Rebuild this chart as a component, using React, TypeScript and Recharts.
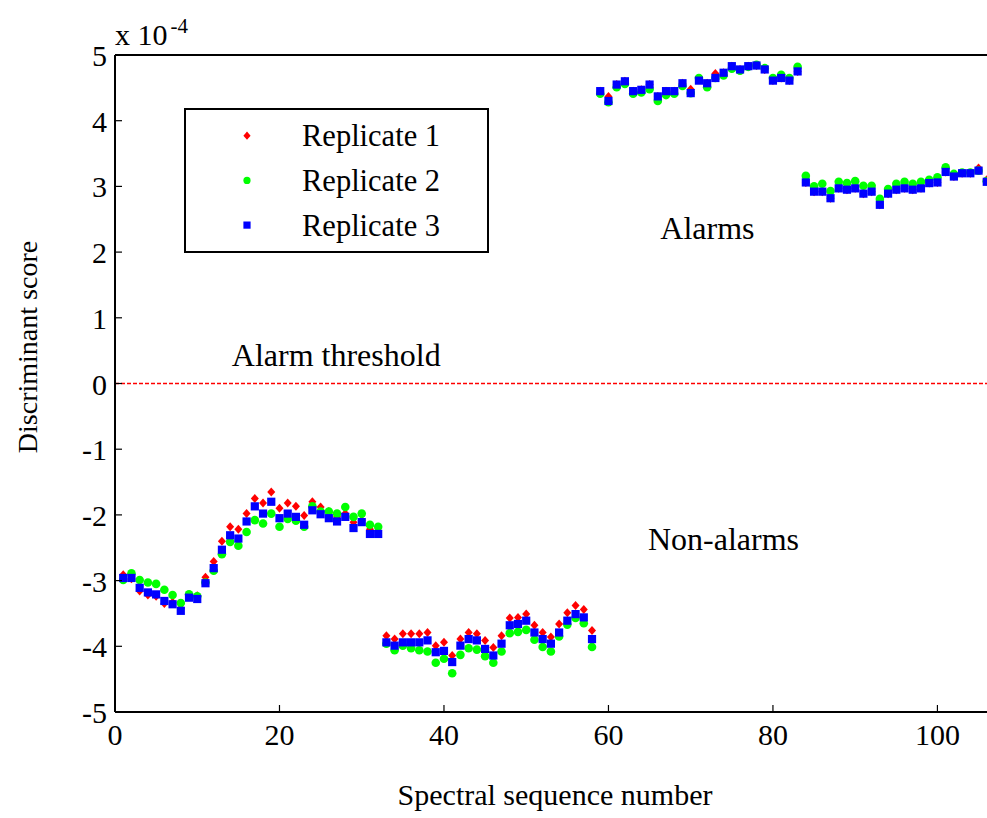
import React from 'react';
import { ScatterChart, Scatter, XAxis, YAxis, ReferenceLine, ReferenceDot } from 'recharts';

const FONT = "'Liberation Serif', 'Times New Roman', serif";

// Discriminant scores (x 1e-4) for spectral sequence numbers 1..106
// groups: 1-32 and 33-58 are non-alarms, 59-83 and 84-106 are alarms
const replicate1 = [
  -2.91, -2.97, -3.16, -3.22, -3.24, -3.35, -3.33, -3.42, -3.23, -3.23, -2.95, -2.71, -2.40, -2.18, -2.22, -1.98,
  -1.75, -1.82, -1.65, -1.90, -1.82, -1.87, -2.01, -1.80, -1.88, -1.95, -2.03, -1.98, -2.11, -2.08, -2.22, -2.24,
  -3.84, -3.89, -3.81, -3.81, -3.81, -3.79, -3.99, -3.94, -4.14, -3.89, -3.79, -3.81, -3.91, -4.02, -3.84, -3.57,
  -3.56, -3.51, -3.68, -3.79, -3.86, -3.66, -3.49, -3.38, -3.44, -3.76,
  4.45, 4.37, 4.55, 4.60, 4.45, 4.47, 4.55, 4.37, 4.45, 4.45, 4.57, 4.48, 4.63, 4.57, 4.72, 4.73,
  4.83, 4.78, 4.83, 4.84, 4.78, 4.61, 4.65, 4.61, 4.75,
  3.06, 2.92, 2.92, 2.82, 2.97, 2.95, 2.97, 2.89, 2.92, 2.72, 2.89, 2.95, 2.97, 2.95, 2.97, 3.05,
  3.06, 3.22, 3.15, 3.20, 3.20, 3.28, 3.10,
];

const replicate2 = [
  -2.99, -2.89, -2.99, -3.03, -3.05, -3.14, -3.22, -3.34, -3.21, -3.24, -3.03, -2.85, -2.60, -2.41, -2.47, -2.26,
  -2.08, -2.13, -1.98, -2.18, -2.06, -2.09, -2.18, -1.87, -1.95, -1.95, -1.98, -1.88, -2.03, -1.98, -2.15, -2.18,
  -3.96, -4.06, -3.99, -4.03, -4.06, -4.08, -4.25, -4.19, -4.41, -4.13, -4.03, -4.05, -4.15, -4.25, -4.08, -3.80,
  -3.78, -3.75, -3.90, -4.01, -4.08, -3.85, -3.67, -3.57, -3.65, -4.01,
  4.41, 4.28, 4.51, 4.56, 4.41, 4.43, 4.48, 4.30, 4.39, 4.41, 4.53, 4.42, 4.65, 4.51, 4.65, 4.69,
  4.79, 4.76, 4.82, 4.85, 4.80, 4.65, 4.70, 4.65, 4.82,
  3.16, 3.00, 3.04, 2.93, 3.07, 3.05, 3.08, 3.01, 3.01, 2.81, 2.96, 3.04, 3.07, 3.04, 3.07, 3.10,
  3.14, 3.29, 3.19, 3.21, 3.21, 3.24, 3.08,
];

const replicate3 = [
  -2.96, -2.96, -3.11, -3.18, -3.21, -3.31, -3.36, -3.46, -3.26, -3.28, -3.04, -2.81, -2.53, -2.31, -2.36, -2.10,
  -1.87, -1.98, -1.80, -2.05, -1.98, -2.03, -2.15, -1.93, -1.99, -2.05, -2.10, -2.03, -2.20, -2.11, -2.29, -2.29,
  -3.94, -3.99, -3.94, -3.94, -3.94, -3.91, -4.09, -4.07, -4.24, -3.99, -3.89, -3.91, -4.04, -4.14, -3.96, -3.68,
  -3.66, -3.61, -3.79, -3.89, -3.96, -3.79, -3.61, -3.51, -3.56, -3.89,
  4.45, 4.30, 4.55, 4.60, 4.45, 4.47, 4.55, 4.37, 4.45, 4.45, 4.57, 4.42, 4.61, 4.57, 4.65, 4.73,
  4.83, 4.78, 4.83, 4.84, 4.78, 4.61, 4.65, 4.61, 4.75,
  3.06, 2.92, 2.92, 2.82, 2.97, 2.95, 2.97, 2.89, 2.92, 2.72, 2.89, 2.95, 2.97, 2.95, 2.97, 3.05,
  3.06, 3.22, 3.15, 3.20, 3.20, 3.24, 3.07,
];

const xTicks = [0, 20, 40, 60, 80, 100];
const yTicks = [-5, -4, -3, -2, -1, 0, 1, 2, 3, 4, 5];
const thresholds = [0];

const toPoints = (vals: number[]) => vals.map((v, i) => ({ seq: i + 1, score: v }));

// marker shapes
const Diamond = ({ cx, cy, s = 4 }: any) => (
  <polygon points={`${cx},${cy - s - 0.5} ${cx + s},${cy} ${cx},${cy + s + 0.5} ${cx - s},${cy}`} fill="#ff0000" />
);
const Dot = ({ cx, cy, s = 4.3 }: any) => <circle cx={cx} cy={cy} r={s} fill="#00ff00" />;
const Square = ({ cx, cy, s = 4.1 }: any) => (
  <rect x={cx - s} y={cy - s} width={s * 2} height={s * 2} fill="#0000ff" />
);

const series = [
  { name: 'Replicate 1', values: replicate1, Shape: Diamond },
  { name: 'Replicate 2', values: replicate2, Shape: Dot },
  { name: 'Replicate 3', values: replicate3, Shape: Square },
];

// MATLAB style ticks point into the plot
const BottomTick = ({ x, y, payload }: any) => (
  <g>
    <line x1={x} x2={x} y1={y} y2={y - 7} stroke="#000" strokeWidth={1.2} />
    <text x={x} y={y + 33} textAnchor="middle" fontFamily={FONT} fontSize={30} fill="#000">
      {payload.value}
    </text>
  </g>
);
const TopTick = ({ x, y }: any) => <line x1={x} x2={x} y1={y} y2={y + 7} stroke="#000" strokeWidth={1.2} />;
const LeftTick = ({ x, y, payload }: any) => (
  <g>
    <line x1={x} x2={x + 7} y1={y} y2={y} stroke="#000" strokeWidth={1.2} />
    <text x={x - 8} y={y + 11} textAnchor="end" fontFamily={FONT} fontSize={30} fill="#000">
      {payload.value}
    </text>
  </g>
);

const YTitle = ({ viewBox }: any) => {
  const right = viewBox.x + viewBox.width;
  return (
    <g fontFamily={FONT} fill="#000">
      <text transform={`translate(37, 347) rotate(-90)`} textAnchor="middle" fontSize={28}>
        Discriminant score
      </text>
      <text x={right} y={45} fontSize={30}>
        x 10<tspan dx={3} dy={-12} fontSize={21}>-4</tspan>
      </text>
    </g>
  );
};

const XTitle = ({ viewBox }: any) => (
  <text x={viewBox.x + viewBox.width / 2} y={805} textAnchor="middle" fontFamily={FONT} fontSize={30} fill="#000">
    Spectral sequence number
  </text>
);

const note = (text: string) => ({ viewBox }: any) => (
  <text x={viewBox.x} y={viewBox.y + 11} fontFamily={FONT} fontSize={32} fill="#000">
    {text}
  </text>
);

const notes = [
  { text: 'Alarm threshold', x: 14.2, y: 0.43 },
  { text: 'Alarms', x: 66.3, y: 2.37 },
  { text: 'Non-alarms', x: 64.8, y: -2.37 },
];

const LegendBox = () => (
  <svg style={{ position: 'absolute', left: 184, top: 108 }} width={306} height={146}>
    <rect x={1} y={1} width={303} height={143} fill="#fff" stroke="#000" strokeWidth={2} />
    {series.map((s, i) => {
      const cy = 27.7 + i * 44.7;
      return (
        <g key={s.name}>
          <s.Shape cx={63} cy={cy} s={3.6} />
          <text x={118} y={cy + 10.5} fontFamily={FONT} fontSize={30.5} fill="#000">
            {s.name}
          </text>
        </g>
      );
    })}
  </svg>
);

export default function App() {
  return (
    <div style={{ position: 'fixed', left: 0, top: 0, width: 987, height: 818, overflow: 'hidden', background: '#fff' }}>
      <ScatterChart width={995} height={818} margin={{ top: 5, right: 0, bottom: 0, left: 0 }}>
        <XAxis
          dataKey="seq"
          type="number"
          domain={[0, 107]}
          ticks={xTicks}
          height={106}
          tickSize={0}
          tickMargin={0}
          tickLine={false}
          tick={<BottomTick />}
          axisLine={{ stroke: '#000', strokeWidth: 2 }}
          label={<XTitle />}
          allowDataOverflow
        />
        <XAxis
          xAxisId="top"
          orientation="top"
          type="number"
          domain={[0, 107]}
          ticks={xTicks}
          height={50}
          tickSize={0}
          tickMargin={0}
          tickLine={false}
          tick={<TopTick />}
          axisLine={{ stroke: '#000', strokeWidth: 2 }}
          allowDataOverflow
        />
        <YAxis
          dataKey="score"
          type="number"
          domain={[-5, 5]}
          ticks={yTicks}
          width={115}
          tickSize={0}
          tickMargin={0}
          tickLine={false}
          tick={<LeftTick />}
          axisLine={{ stroke: '#000', strokeWidth: 2 }}
          label={<YTitle />}
          allowDataOverflow
        />
        {thresholds.map((t) => (
          <ReferenceLine key={t} y={t} stroke="red" strokeWidth={1.3} strokeDasharray="4 2" ifOverflow="visible" />
        ))}
        {series.map((s) => (
          <Scatter
            key={s.name}
            name={s.name}
            data={toPoints(s.values)}
            shape={<s.Shape />}
            isAnimationActive={false}
          />
        ))}
        {notes.map((n) => (
          <ReferenceDot key={n.text} x={n.x} y={n.y} r={0} stroke="none" fill="none" label={note(n.text)} />
        ))}
      </ScatterChart>
      <LegendBox />
    </div>
  );
}
